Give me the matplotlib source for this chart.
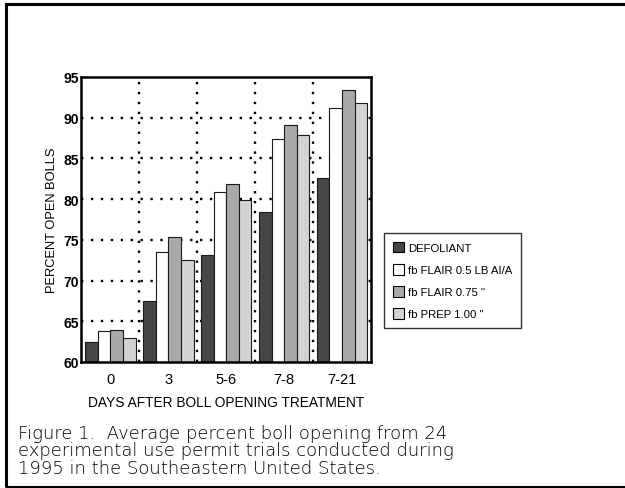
import matplotlib
matplotlib.use("Agg")
import matplotlib.pyplot as plt
import numpy as np
from matplotlib.patches import Rectangle, Patch

plt.rcParams['font.family'] = ['Liberation Sans', 'DejaVu Sans']

categories = ["0", "3", "5-6", "7-8", "7-21"]
series_names = ["DEFOLIANT", "fb FLAIR 0.5 LB AI/A", "fb FLAIR 0.75 \"", "fb PREP 1.00 \""]
defoliant = [62.4, 67.5, 73.2, 78.4, 82.6]
flair_05 = [63.8, 73.5, 80.9, 87.4, 91.2]
flair_075 = [63.9, 75.3, 81.9, 89.1, 93.4]
prep_100 = [62.9, 72.5, 79.9, 87.9, 91.8]
colors = ["#464646", "#ffffff", "#a9a9a9", "#d3d3d3"]
yticks = [60, 65, 70, 75, 80, 85, 90, 95]

fig = plt.figure(figsize=(6.25, 4.89), dpi=100)
ax = fig.add_axes([0.1304, 0.2577, 0.4632, 0.5828])

x = np.arange(len(categories))
w = 0.2175
all_series = [defoliant, flair_05, flair_075, prep_100]
for i, (vals, c) in enumerate(zip(all_series, colors)):
    ax.bar(x + (i - 1.5) * w, np.array(vals) - 60, bottom=60, width=w,
           color=c, edgecolor="#1a1a1a", linewidth=0.8, zorder=3)

ax.set_xlim(-0.5, 4.5)
ax.set_ylim(60, 95)
ax.set_yticks(yticks)
ax.set_yticklabels([str(t) for t in yticks], fontsize=10, fontweight="bold")
ax.set_xticks(x)
ax.set_xticklabels(categories, fontsize=10.5)
ax.tick_params(axis='both', which='both', length=0)
ax.tick_params(axis='y', pad=2)
ax.tick_params(axis='x', pad=7)

ax.grid(False)
for yv in yticks[1:-1]:
    ax.axhline(yv, color="black", linestyle=(0, (1, 3.2)), linewidth=1.7, zorder=1)
for xv in np.arange(0.5, 4.5, 1.0):
    ax.axvline(xv, color="black", linestyle=(0, (1, 3.2)), linewidth=1.7, zorder=1)

for s in ax.spines.values():
    s.set_linewidth(1.8)
    s.set_zorder(5)

ax.set_ylabel("PERCENT OPEN BOLLS", fontsize=9.3, labelpad=4)
ax.set_xlabel("DAYS AFTER BOLL OPENING TREATMENT", fontsize=9.9, labelpad=7)

handles = [Patch(facecolor=c, edgecolor="black", linewidth=0.8) for c in colors]
leg = fig.legend(handles, series_names, loc="upper left",
                 bbox_to_anchor=(0.6144, 0.5215), fontsize=8.2,
                 frameon=True, fancybox=False, edgecolor="black",
                 handlelength=1.0, handleheight=1.1, handletextpad=0.35,
                 labelspacing=0.95, borderpad=0.75, borderaxespad=0)
leg.get_frame().set_linewidth(1.0)

caption = ("Figure 1.  Average percent boll opening from 24\n"
           "experimental use permit trials conducted during\n"
           "1995 in the Southeastern United States.")
fig.text(0.028, 0.077, caption, fontsize=13, va="center", ha="left",
         linespacing=0.97, color="black", fontweight="light",
         family=["DejaVu Sans"])

fig.patches.append(Rectangle((0.0088, 0.003), 1.05, 0.9858, transform=fig.transFigure,
                             fill=False, edgecolor="black", linewidth=2.2))

fig.savefig("out.png", dpi=100)
